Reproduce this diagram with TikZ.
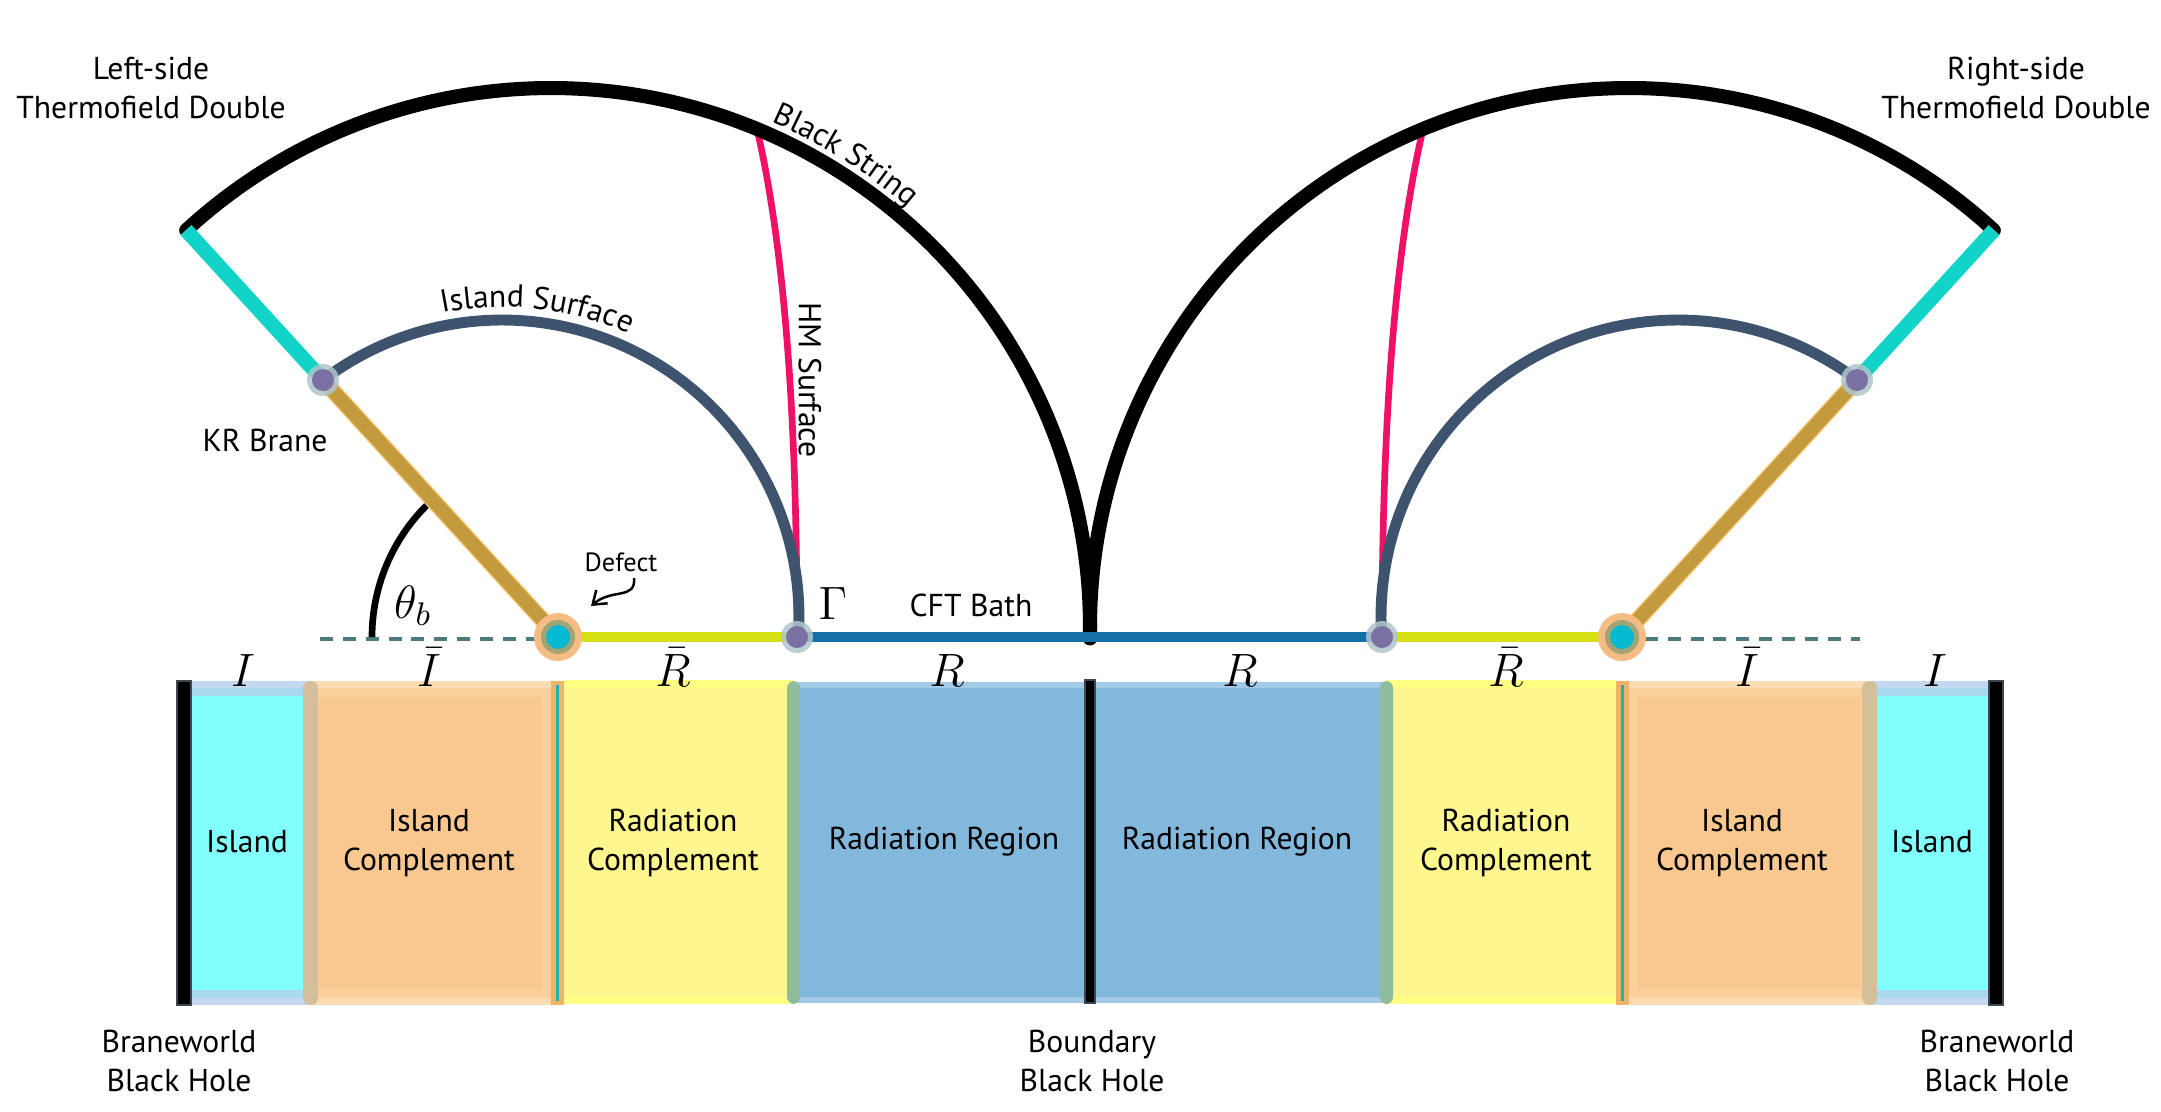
\documentclass[tikz,border=0pt]{standalone}
\usepackage{fix-cm}
\usepackage{fontspec}
\setmainfont{PT Sans}
\usetikzlibrary{arrows.meta,decorations.text}
\definecolor{kgold}{HTML}{C49A3E}
\definecolor{kgoldedge}{HTML}{F4C56E}
\definecolor{kcyan}{HTML}{12D3C8}
\definecolor{islsurf}{HTML}{3E546E}
\definecolor{hmpink}{HTML}{EE1166}
\definecolor{ybase}{HTML}{D6E014}
\definecolor{bbase}{HTML}{1570A8}
\definecolor{dashc}{HTML}{4D7B7B}
\definecolor{defhalo}{HTML}{F5BC84}
\definecolor{defring}{HTML}{A3A475}
\definecolor{defcore}{HTML}{04B9D0}
\definecolor{dotc}{HTML}{7B70A2}
\definecolor{dothalo}{HTML}{AFC6CB}
\definecolor{islf}{HTML}{82FFFF}
\definecolor{islbA}{HTML}{C3D9EF}
\definecolor{islbB}{HTML}{AAD8EE}
\definecolor{compf}{HTML}{F8C890}
\definecolor{compbA}{HTML}{FCDDB3}
\definecolor{compbB}{HTML}{FAD09C}
\definecolor{radcf}{HTML}{FFF690}
\definecolor{radcb}{HTML}{FFFF84}
\definecolor{radf}{HTML}{83B8DD}
\definecolor{radb}{HTML}{A2C9E6}
\definecolor{tanbar}{HTML}{D3BF9A}
\definecolor{greenbar}{HTML}{90BC9E}
\definecolor{defbar}{HTML}{F1B466}
\definecolor{defline}{HTML}{1DB2B4}
\definecolor{bbarline}{HTML}{3E4650}
\begin{document}
\begin{tikzpicture}[x=0.01cm,y=-0.01cm,
  lbl/.style={font=\fontsize{9}{11.1}\selectfont, align=center, inner sep=0pt},
  mlbl/.style={font=\fontsize{13.3}{16}\selectfont, inner sep=0pt, anchor=base},
  blackstr/.style={line width=4pt, line cap=round, black},
  islline/.style={line width=3.1pt, line cap=round, islsurf},
  hmline/.style={line width=1.9pt, line cap=round, hmpink},
  braneedge/.style={line width=4.7pt, kgoldedge},
  branegold/.style={line width=3.9pt, kgold},
  branecyan/.style={line width=4.2pt, kcyan},
  baseY/.style={line width=3.1pt, ybase},
  baseB/.style={line width=3.1pt, bbase},
  dashln/.style={line width=0.9pt, dashc, dash pattern=on 3.7pt off 2.8pt},
  blackbar/.style={fill=black, draw=bbarline, line width=0.6pt},
  dotstyle/.style={fill=dotc},
  halostyle/.style={fill=dothalo, opacity=0.85}]
\useasboundingbox (0,0) rectangle (2161,1111);

% ---------- key points ----------
\coordinate (DL) at (558,637);
\coordinate (GL) at (797,637);
\coordinate (BL) at (323,380);
\coordinate (EL) at (186,230);
\coordinate (HL) at (757,129);
\coordinate (DashL) at (320,639);
\coordinate (DR) at (1622,637);
\coordinate (GR) at (1382,637);
\coordinate (BR) at (1857,380);
\coordinate (ER) at (1994,230);
\coordinate (HR) at (1423,129);
\coordinate (DashR) at (1860,639);
\coordinate (DLd) at (558,639);
\coordinate (DRd) at (1622,639);

% ---------- bottom strips (left half) ----------
\fill[islbA] (191,681) rectangle (310,1005);
\fill[islbB] (191,688) rectangle (310,998);
\fill[islf] (191,696) rectangle (310,990);
\fill[compbA] (310,681) rectangle (551,1005);
\fill[compbB] (310,688) rectangle (551,998);
\fill[compf] (319,697) rectangle (542,989);
\fill[radcb] (564,680) rectangle (794,1004);
\fill[radcf] (564,688) rectangle (794,996);
\fill[radb] (794,682) rectangle (1085,1003);
\fill[radf] (794,688) rectangle (1085,997);
% ---------- bottom strips (right half) ----------
\fill[radb] (1095,682) rectangle (1386,1003);
\fill[radf] (1095,688) rectangle (1386,997);
\fill[radcb] (1386,680) rectangle (1616,1004);
\fill[radcf] (1386,688) rectangle (1616,996);
\fill[compbA] (1629,681) rectangle (1870,1005);
\fill[compbB] (1629,688) rectangle (1870,998);
\fill[compf] (1638,697) rectangle (1861,989);
\fill[islbA] (1870,681) rectangle (1989,1005);
\fill[islbB] (1870,688) rectangle (1989,998);
\fill[islf] (1870,696) rectangle (1989,990);
% ---------- separators ----------
\fill[tanbar, rounded corners=2pt] (303,681) rectangle (318,1005);
\fill[tanbar, rounded corners=2pt] (1862,681) rectangle (1877,1005);
\fill[greenbar, rounded corners=2pt] (787,681) rectangle (800,1004);
\fill[greenbar, rounded corners=2pt] (1380,681) rectangle (1393,1004);
\fill[defbar] (551,681) rectangle (564,1005);
\fill[defbar] (1616,681) rectangle (1629,1005);
\draw[defline, line width=0.8pt] (557.5,685) -- (557.5,1001);
\draw[defline, line width=0.8pt] (1622.5,685) -- (1622.5,1001);
\filldraw[blackbar] (177,681) rectangle (191,1005);
\filldraw[blackbar] (1085,680) rectangle (1095,1003);
\filldraw[blackbar] (1989,681) rectangle (2003,1005);

% ---------- region texts ----------
\node[lbl] (tIslL) at (247,842) {Island};
\node[lbl] (tICL) at (429,843) {Island\\Complement};
\node[lbl] (tRCL) at (673,843) {Radiation\\Complement};
\node[lbl] (tRRL) at (944,842) {Radiation Region};
\node[lbl] (tRRR) at (1237,842) {Radiation Region};
\node[lbl] (tRCR) at (1506,843) {Radiation\\Complement};
\node[lbl] (tICR) at (1742,843) {Island\\Complement};
\node[lbl] (tIslR) at (1932,842) {Island};

\node[lbl] (bwL) at (179,1061) {Braneworld\\Black Hole};
\node[lbl] (bdM) at (1092,1061) {Boundary\\Black Hole};
\node[lbl] (bwR) at (1997,1061) {Braneworld\\Black Hole};

% ---------- math labels over strips ----------
\node[mlbl] (mI1) at (243,686) {$I$};
\node[mlbl] (mIb1) at (429,686) {$\bar{I}$};
\node[mlbl] (mRb1) at (673,686) {$\bar{R}$};
\node[mlbl] (mR1) at (947,686) {$R$};
\node[mlbl] (mR2) at (1240,686) {$R$};
\node[mlbl] (mRb2) at (1506,686) {$\bar{R}$};
\node[mlbl] (mIb2) at (1747,686) {$\bar{I}$};
\node[mlbl] (mI2) at (1935,686) {$I$};

% ---------- dashed reference lines and angle ----------
\draw[dashln] (DashL) -- (DLd);
\draw[dashln] (DRd) -- (DashR);
\draw[line width=1.9pt, black] plot[domain=180:133, samples=40, smooth] ({558+186*cos(\x)},{637-186*sin(\x)});
\node[font=\fontsize{13.3}{16}\selectfont, inner sep=0pt] (theta) at (413,606) {$\theta_b$};

% ---------- HM surfaces ----------
\draw[hmline] (GL) .. controls (797,420) and (785,250) .. (HL);
\draw[hmline] (GR) .. controls (1382,420) and (1395,250) .. (HR);

% ---------- black strings ----------
\draw[blackstr] plot[domain=132.6:-1.2, samples=90, smooth] ({551+539*cos(\x)},{627-539*sin(\x)});
\draw[blackstr] plot[domain=181.2:47.4, samples=90, smooth] ({1629+539*cos(\x)},{627-539*sin(\x)});

% ---------- island surfaces ----------
\draw[islline] plot[domain=127:-3.9, samples=80, smooth] ({502+297*cos(\x)},{617-297*sin(\x)});
\draw[islline] plot[domain=183.9:53, samples=80, smooth] ({1678+297*cos(\x)},{617-297*sin(\x)});

% ---------- curved labels (y-up scope) ----------
\begin{scope}[y=0.01cm]
\path[decorate, decoration={text along path, text align=center,
   text={|\fontsize{9}{11.1}\selectfont|Island Surface}}]
   ({502+310*cos(118)},{-617+310*sin(118)}) arc[start angle=118, end angle=49, radius=3.1cm];
\path[decorate, decoration={text along path, text align=center,
   text={|\fontsize{9}{11.1}\selectfont|Black String}}]
   ({551+551*cos(75)},{-627+551*sin(75)}) arc[start angle=75, end angle=41, radius=5.51cm];
\end{scope}

% ---------- KR branes ----------
\draw[braneedge] (DL) -- (BL);
\draw[branegold] (DL) -- (BL);
\draw[branecyan] (BL) -- (EL);
\draw[braneedge] (DR) -- (BR);
\draw[branegold] (DR) -- (BR);
\draw[branecyan] (BR) -- (ER);

% ---------- boundary (CFT bath) ----------
\draw[baseY] (DL) -- (GL);
\draw[baseB] (GL) -- (GR);
\draw[baseY] (GR) -- (DR);

% ---------- points ----------
\fill[defhalo] (DL) circle[radius=24];
\fill[defring] (DL) circle[radius=17];
\fill[defcore] (DL) circle[radius=12];
\fill[defhalo] (DR) circle[radius=24];
\fill[defring] (DR) circle[radius=17];
\fill[defcore] (DR) circle[radius=12];
\foreach \p in {GL,GR,BL,BR}{
  \fill[halostyle] (\p) circle[radius=16];
  \fill[dotstyle] (\p) circle[radius=11];
}

% ---------- labels ----------
\node[lbl] (lts) at (151,88) {Left-side\\Thermofield Double};
\node[lbl] (rts) at (2016,88) {Right-side\\Thermofield Double};
\node[lbl, rotate=-90] (hml) at (810,380) {HM Surface};
\node[lbl] (krl) at (265,440) {KR Brane};
\node[lbl] (cft) at (971,605) {CFT Bath};
\node[font=\fontsize{13.3}{16}\selectfont, inner sep=0pt] (gam) at (833,603) {$\Gamma$};
\node[font=\fontsize{7.5}{9}\selectfont, inner sep=0pt] (defl) at (621,562) {Defect};
\coordinate (defA) at (634,578);
\coordinate (defB) at (591,606);
\draw[line width=0.7pt, -{Straight Barb[length=3.5pt,width=5pt]}] (defA) .. controls (636,600) and (612,588) .. (defB);
\end{tikzpicture}
\end{document}
